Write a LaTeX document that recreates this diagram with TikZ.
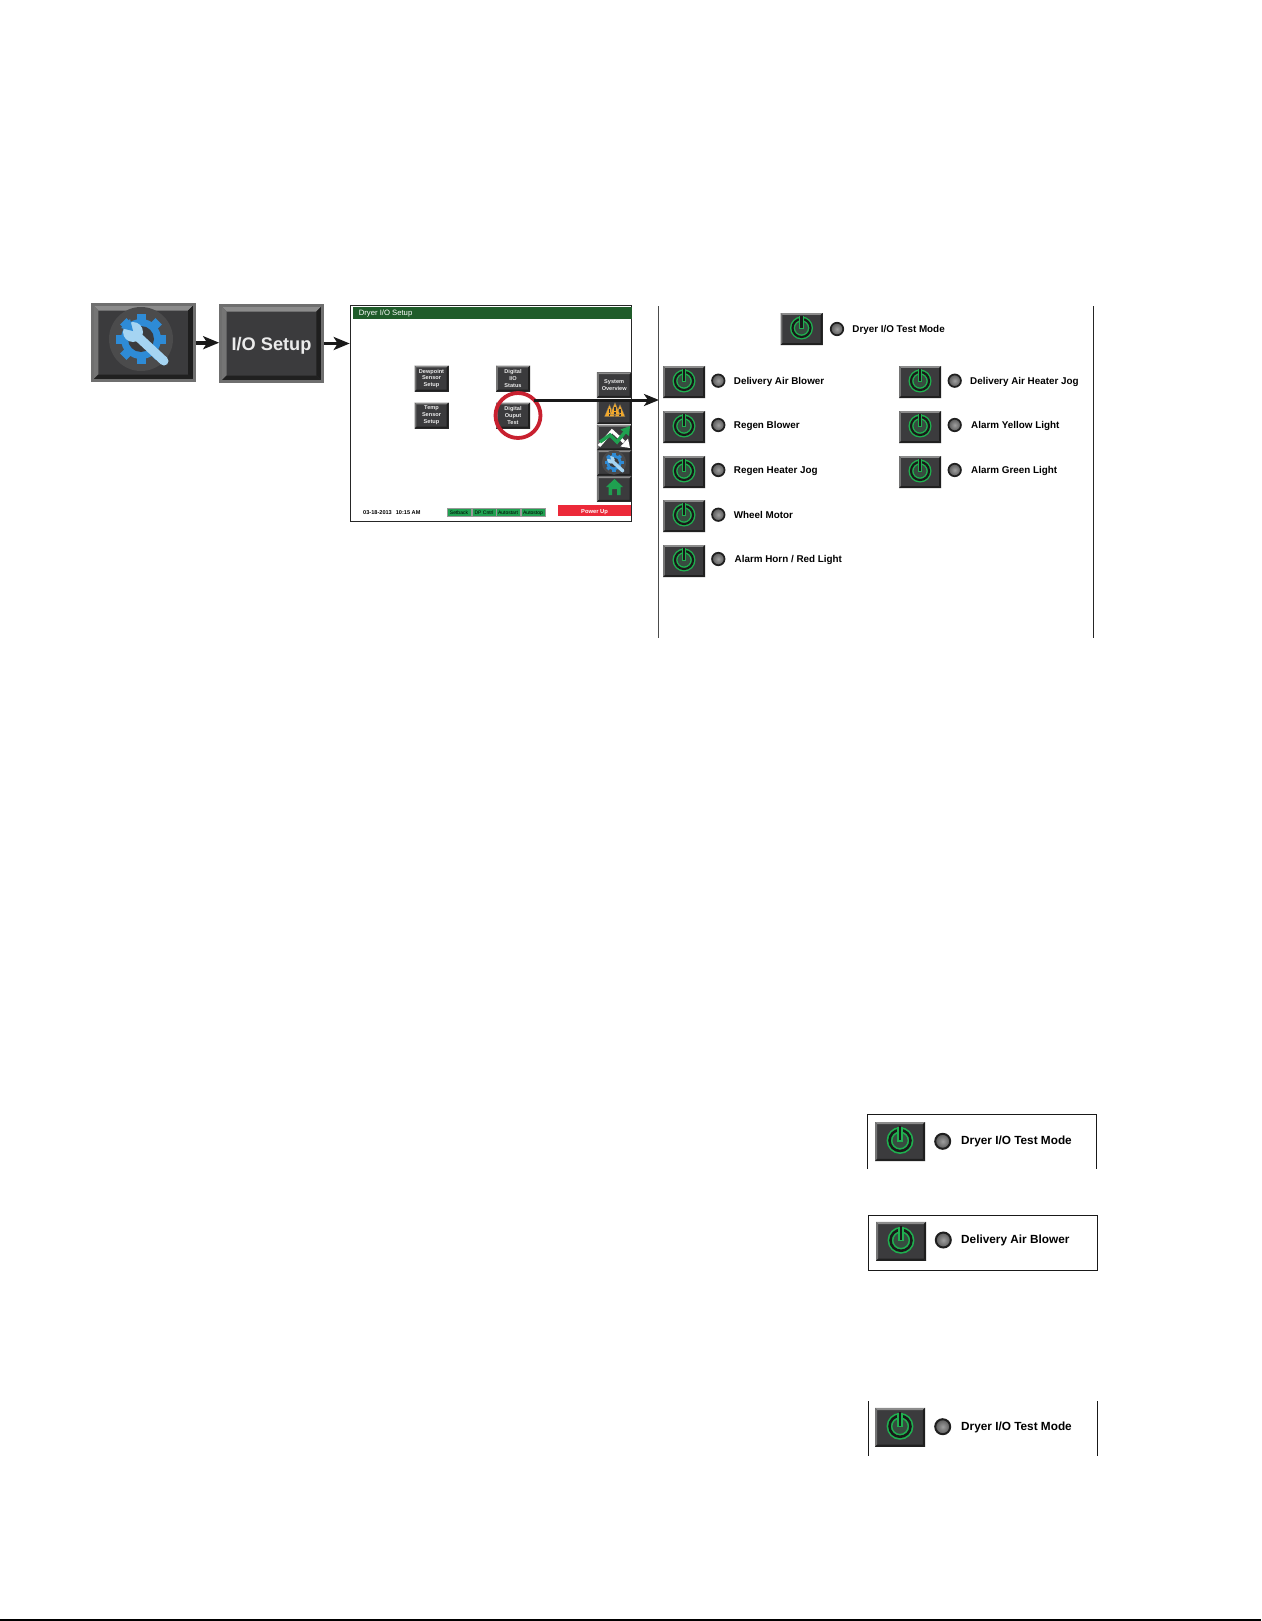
\documentclass[tikz,border=0pt]{standalone}
\usepackage{fontspec}
\setmainfont{Liberation Sans}
\usetikzlibrary{arrows.meta}

\definecolor{btnface}{HTML}{3B3B3D}
\definecolor{btntop}{HTML}{8C8C8C}
\definecolor{btnleft}{HTML}{757575}
\definecolor{btnright}{HTML}{1E1E1E}
\definecolor{btnbot}{HTML}{202020}
\definecolor{btnrim}{HTML}{6F6F6F}
\definecolor{pwrglow}{HTML}{1FB04F}
\definecolor{titlegreen}{HTML}{1F5C2A}
\definecolor{chipgreen}{HTML}{1FA050}
\definecolor{powerred}{HTML}{EC2939}
\definecolor{ringred}{HTML}{C8202F}
\definecolor{gearblue}{HTML}{2E8BD6}
\definecolor{wrenchblue}{HTML}{A5D4F2}
\definecolor{warnamber}{HTML}{F2A92C}

\newcommand{\drawbevel}[1]{
    \coordinate (pbnw) at (path picture bounding box.north west);
    \coordinate (pbne) at (path picture bounding box.north east);
    \coordinate (pbsw) at (path picture bounding box.south west);
    \coordinate (pbse) at (path picture bounding box.south east);
    \fill[btntop] (pbnw) -- (pbne) -- ([shift={(-#1,-#1)}]pbne) -- ([shift={(#1,-#1)}]pbnw) -- cycle;
    \fill[btnleft] (pbnw) -- (pbsw) -- ([shift={(#1,#1)}]pbsw) -- ([shift={(#1,-#1)}]pbnw) -- cycle;
    \fill[btnright] (pbne) -- (pbse) -- ([shift={(-#1,#1)}]pbse) -- ([shift={(-#1,-#1)}]pbne) -- cycle;
    \fill[btnbot] (pbsw) -- (pbse) -- ([shift={(-#1,#1)}]pbse) -- ([shift={(#1,#1)}]pbsw) -- cycle;
}
\newcommand{\drawpower}[1]{
    \coordinate (pwr) at ([yshift=1pt]path picture bounding box.center);
    \fill[pwrglow!15!btnface] (pwr) circle[radius=#1];
    \draw[pwrglow,line width=0.55*#1] (pwr) circle[radius=#1];
    \draw[black!90,line width=0.24*#1] (pwr) circle[radius=#1];
    \draw[pwrglow,line width=0.55*#1] ([yshift=1.3*#1]pwr) -- ([yshift=-0.1*#1]pwr);
    \draw[black!90,line width=0.24*#1] ([yshift=1.35*#1]pwr) -- ([yshift=0.05*#1]pwr);
}

\tikzset{
    bigbtn/.style={rectangle,draw=btnrim,line width=3pt,fill=btnface,inner sep=0pt,minimum width=101.7pt,minimum height=76pt,
        path picture={\drawbevel{6pt}}},
    screenbtn/.style={rectangle,fill=btnface,inner sep=0pt,minimum width=34pt,minimum height=26pt,text=white!92!black,align=center,
        font=\bfseries\fontsize{5.6}{6.9}\selectfont,path picture={\drawbevel{1.8pt}}},
    sidebtn/.style={screenbtn,minimum width=34.5pt,minimum height=25.4pt},
    testbtn/.style={rectangle,fill=btnface,inner sep=0pt,minimum width=42pt,minimum height=32pt,
        path picture={\drawbevel{1.8pt}\drawpower{9pt}}},
    bigtestbtn/.style={rectangle,fill=btnface,inner sep=0pt,minimum width=50pt,minimum height=39pt,
        path picture={\drawbevel{2.2pt}\drawpower{10.5pt}}},
    led/.style={circle,draw=black!88,line width=1.7pt,inner sep=0pt,minimum size=12.5pt,shade,inner color=black!38,outer color=black!65},
    bigled/.style={led,line width=2pt,minimum size=15pt},
    testlabel/.style={anchor=west,inner sep=0pt,text=black,font=\bfseries\fontsize{9.85}{11}\selectfont},
    bigtestlabel/.style={anchor=west,inner sep=0pt,text=black,font=\bfseries\fontsize{11.8}{13}\selectfont},
    chip/.style={rectangle,draw=black!40,line width=0.6pt,fill=chipgreen,inner sep=0pt,minimum width=24pt,minimum height=7.5pt,
        text=black,text height=3.8pt,text depth=0pt,font=\fontsize{5}{5}\selectfont},
    flowarrow/.style={-{Stealth[length=16pt,width=13pt,inset=4pt]},line width=3.6pt,black!90},
    pics/geargly/.style={code={
        \fill[btnface!92!white] (0,0) circle[radius=32];
        \foreach \tooth in {0,45,...,315}
            \fill[gearblue,rotate=\tooth] (-4.5,-25) rectangle (4.5,-16);
        \fill[gearblue] (0,0) circle[radius=20];
        \fill[btnface] (0,0) circle[radius=13];
        \fill[wrenchblue] (-2.8,-8.2) -- (26.2,18.8) -- (19.8,25.2) -- (-9.2,-1.8) -- cycle;
        \fill[wrenchblue] (23,22) circle[radius=4.5];
        \fill[wrenchblue] (-8,-7) circle[radius=10];
        \fill[gearblue] (-8,-8) -- (-20,-11) -- (-11,-20) -- cycle;
    }},
    pics/warntri/.style={code={
        \fill[warnamber,draw=black!60,line width=0.3pt,line join=round] (0,-6.5) -- (5,5.5) -- (-5,5.5) -- cycle;
        \fill[black!80] (-0.7,-2.5) rectangle (0.7,2);
        \fill[black!80] (-0.7,3) rectangle (0.7,4.6);
    }},
}

\begin{document}
\begin{tikzpicture}[x=1pt,y=-1pt]
    \useasboundingbox (0,0) rectangle (1261,1621);

    % Menu buttons
    \node[bigbtn] (gearbtn) at (143.3,342.5) {};
    \pic at (141,339) {geargly};
    \node[bigbtn,text=white!92!black,text height=17.5pt,font=\bfseries\fontsize{18.2}{20}\selectfont] (iobtn) at (271.5,343.5) {I/O Setup\hspace{2pt}};

    % Dryer screen
    \node[rectangle,draw=black!85,line width=1.2pt,fill=white,inner sep=0pt,minimum width=281pt,minimum height=216pt] (dryerscreen) at (490.8,413.5) {};
    \node[rectangle,fill=titlegreen,inner sep=0pt,minimum width=279pt,minimum height=12.5pt] (titlebar) at (492,313.2) {};
    \node[anchor=west,inner sep=0pt,text=white,font=\fontsize{7.7}{9}\selectfont] (titletext) at (358.6,314) {Dryer I/O Setup};
    \node[screenbtn] (dewbtn) at (431.5,378.5) {Dewpoint\\Sensor\\Setup};
    \node[screenbtn] (tempbtn) at (431.5,415.5) {Temp\\Sensor\\Setup};
    \node[screenbtn] (statusbtn) at (513,378.5) {Digital\\I/O\\Status};
    \node[screenbtn] (ouputbtn) at (513,415.5) {Digital\\Ouput\\Test};

    % Side buttons
    \node[sidebtn] (sysbtn) at (614.2,385) {System\\Overview};
    \node[sidebtn] (warnbtn) at (614.2,411.5) {};
    \node[sidebtn] (chartbtn) at (614.2,437.5) {};
    \node[sidebtn] (toolbtn) at (614.2,463) {};
    \node[sidebtn] (homebtn) at (614.2,489) {};
    \pic at (609.5,411) {warntri};
    \pic at (620,411) {warntri};
    \pic at (615,409) {warntri};
    \draw[white,line width=3.2pt] (599,446) -- (612,431) -- (624,442);
    \fill[white] (630,448) -- (620.5,446.5) -- (628,438.5) -- cycle;
    \draw[chipgreen,line width=3.4pt] (600,442) -- (610,435) -- (617,442) -- (625,432);
    \fill[chipgreen] (630,426) -- (629,436) -- (620.5,429.5) -- cycle;
    \pic[scale=0.38] at (614,462.5) {geargly};
    \fill[chipgreen] (614.5,479) -- (623,487) -- (620.5,487) -- (620.5,495) -- (617,495) -- (617,489) -- (612,489) -- (612,495) -- (608.5,495) -- (608.5,487) -- (606,487) -- cycle;

    % Status line
    \node[anchor=west,inner sep=0pt,text=black,font=\bfseries\fontsize{5.6}{6}\selectfont] (stamp) at (363,513) {03-18-2013\hspace{4pt}10:15 AM};
    \node[chip] (chipa) at (459,512.5) {Setback};
    \node[chip] (chipb) at (484,512.5) {DP Cntrl};
    \node[chip] (chipc) at (508,512.5) {Autostart};
    \node[chip] (chipd) at (533,512.5) {Autostop};
    \node[rectangle,fill=powerred,inner sep=0pt,minimum width=73pt,minimum height=11pt,text=white,text height=6pt,font=\bfseries\fontsize{5.8}{7}\selectfont] (powerup) at (594.5,510.7) {Power Up};

    % Highlight
    \node[circle,draw=ringred,line width=3.8pt,inner sep=0pt,minimum size=45pt] (ring) at (518,415.5) {};

    % Arrows
    \coordinate (panelin) at (659,400);
    \draw[flowarrow] (gearbtn.east |- 0,342.7) -- (iobtn.west |- 0,342.7);
    \draw[flowarrow] (iobtn.east) -- (iobtn.east -| dryerscreen.west);
    \draw[flowarrow,-{Stealth[length=15pt,width=12pt,inset=4pt]},line width=3pt] (ring.50 |- panelin) -- (panelin);

    % Test panel
    \draw[black!70,line width=1.1pt] (658.5,306) -- (658.5,638);
    \draw[black!85,line width=1.1pt] (1093.5,306) -- (1093.5,638);
    \node[testbtn] (modebtn) at (801.5,329) {};
    \node[led] (modeled) at (837,329) {};
    \node[testlabel] (modetext) at (852.2,329.7) {Dryer I/O Test Mode};

    \node[testbtn] (blowerbtn) at (684,382) {};
    \node[led] (blowerled) at (718.3,380.7) {};
    \node[testlabel] (blowertext) at (733.7,381.7) {Delivery Air Blower};
    \node[testbtn] (regenbtn) at (684,427) {};
    \node[led] (regenled) at (718.3,425) {};
    \node[testlabel] (regentext) at (733.7,426) {Regen Blower};
    \node[testbtn] (heatbtn) at (684,472) {};
    \node[led] (heatled) at (718.3,470) {};
    \node[testlabel] (heattext) at (733.7,470.8) {Regen Heater Jog};
    \node[testbtn] (wheelbtn) at (684,516) {};
    \node[led] (wheelled) at (718.3,514.7) {};
    \node[testlabel] (wheeltext) at (733.7,515) {Wheel Motor};
    \node[testbtn] (hornbtn) at (684,561) {};
    \node[led] (hornled) at (718.3,559) {};
    \node[testlabel] (horntext) at (734.5,560) {Alarm Horn / Red Light};

    \node[testbtn] (jogbtn) at (920,382) {};
    \node[led] (jogled) at (954.7,380.7) {};
    \node[testlabel] (jogtext) at (970,381.7) {Delivery Air Heater Jog};
    \node[testbtn] (yellowbtn) at (920,427) {};
    \node[led] (yellowled) at (954.7,425) {};
    \node[testlabel] (yellowtext) at (971,426) {Alarm Yellow Light};
    \node[testbtn] (greenbtn) at (920,472) {};
    \node[led] (greenled) at (954.7,470) {};
    \node[testlabel] (greentext) at (971,470.8) {Alarm Green Light};

    % Lower boxes
    \draw[black!90,line width=0.9pt] (867.3,1169) -- (867.3,1114.3) -- (1096.7,1114.3) -- (1096.7,1169);
    \node[bigtestbtn] (lowabtn) at (900,1141.5) {};
    \node[bigled] (lowaled) at (942.7,1141.3) {};
    \node[bigtestlabel] (lowatext) at (961,1141.7) {Dryer I/O Test Mode};

    \draw[black!90,line width=0.9pt] (868,1215) rectangle (1097.7,1270.7);
    \node[bigtestbtn] (lowbbtn) at (901,1241.3) {};
    \node[bigled] (lowbled) at (943.3,1240) {};
    \node[bigtestlabel] (lowbtext) at (961,1240.3) {Delivery Air Blower};

    \draw[black!90,line width=0.9pt] (868,1401) -- (868,1455.7);
    \draw[black!90,line width=0.9pt] (1097,1401) -- (1097,1455.7);
    \node[bigtestbtn] (lowcbtn) at (900,1427.3) {};
    \node[bigled] (lowcled) at (942.7,1426.7) {};
    \node[bigtestlabel] (lowctext) at (961,1427) {Dryer I/O Test Mode};

    % Page rule
    \draw[black,line width=1.5pt] (0,1620) -- (1261,1620);
\end{tikzpicture}
\end{document}
